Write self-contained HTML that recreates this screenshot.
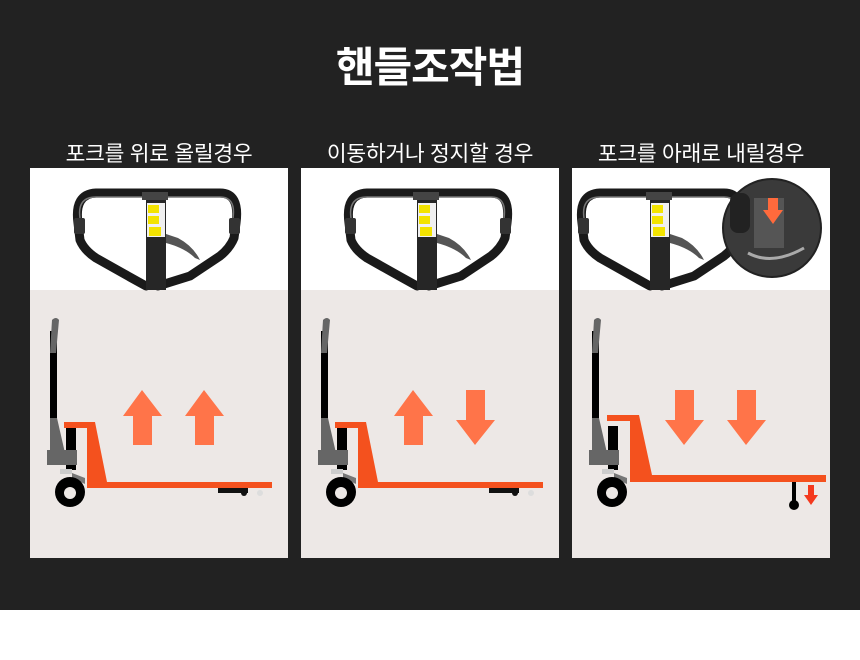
<!DOCTYPE html>
<html><head><meta charset="utf-8"><style>
body{margin:0;width:860px;height:660px;background:#fff;font-family:"Liberation Sans","Noto Sans CJK KR",sans-serif;position:relative;overflow:hidden}
.dark{position:absolute;left:0;top:0;width:860px;height:610px;background:#222}
h1{position:absolute;top:34px;left:0;width:860px;text-align:center;margin:0;color:#fff;font-size:42px;font-weight:bold;letter-spacing:-1px}
.lab{position:absolute;top:137px;width:258px;text-align:center;color:#fff;font-size:21.5px;letter-spacing:-0.3px}
svg.p{position:absolute;top:168px}
</style></head><body>
<div class="dark"></div>
<h1>핸들조작법</h1>
<div class="lab" style="left:30px">포크를 위로 올릴경우</div>
<div class="lab" style="left:301px">이동하거나 정지할 경우</div>
<div class="lab" style="left:572px">포크를 아래로 내릴경우</div>
<svg width="0" height="0" style="position:absolute"><defs>
<g id="hd">
<path d="M48,55 Q44,26 66,25 L190,25 Q210,25 206,55 L204,70 Q200,80 190,88 L160,108 L128,118 M48,55 L50,72 Q54,82 66,90 L98,108 L116,118" fill="none" stroke="#1a1a1a" stroke-width="9" stroke-linejoin="round" stroke-linecap="round"/>
<path d="M50,50 Q47,29 66,29 L190,29 Q206,29 203,50" fill="none" stroke="#777" stroke-width="1.5"/>
<rect x="44" y="50" width="11" height="16" rx="2" fill="#333"/><rect x="199" y="50" width="11" height="16" rx="2" fill="#333"/>
<rect x="112" y="24" width="26" height="8" fill="#444"/>
<rect x="116" y="32" width="20" height="90" fill="#262626"/>
<rect x="117" y="35" width="18" height="34" fill="#f0f0f0"/>
<rect x="118" y="37" width="11" height="8" fill="#f3e300"/><rect x="118" y="48" width="11" height="8" fill="#f3e300"/><rect x="119" y="59" width="12" height="9" fill="#f3e300"/>
<path d="M136,66 L148,70 Q163,78 170,92 L165,90 Q155,80 136,75Z" fill="#555"/>
</g>
<g id="tr">
<rect x="20" y="163" width="7" height="102" fill="#000"/>
<path d="M22,152 Q26,148 29,152 L26,185 L20,185Z" fill="#666"/>
<path d="M20,250 L27,250 L35,285 L20,285Z" fill="#666"/>
<rect x="36" y="258" width="10" height="44" fill="#000"/>
<rect x="17" y="282" width="30" height="15" fill="#666"/>
<rect x="30" y="301" width="12" height="5" fill="#ccc"/>
<path d="M42,305 L55,310 L55,316 L42,310Z" fill="#777"/>
<circle cx="40" cy="324" r="15" fill="#000"/><circle cx="40" cy="325" r="6" fill="#ede8e6"/>
</g>
<g id="up"><path d="M103,277 V248 H93 L112,222 L132,248 H122 V277Z" fill="#ff7449"/></g>
<g id="dn"><path d="M103,222 V252 H93 L112,277 L132,252 H122 V222Z" fill="#ff7449"/></g>
</defs></svg>

<svg class="p" style="left:30px" width="258" height="390">
<rect width="258" height="122" fill="#fff"/><rect y="122" width="258" height="268" fill="#ede8e6"/>
<use href="#hd"/>
<use href="#tr"/>
<rect x="188" y="320" width="30" height="5" fill="#111"/><circle cx="214" cy="325" r="3" fill="#111"/><circle cx="230" cy="325" r="3" fill="#ddd"/>
<path d="M34,254 H65 L77,314 H242 V320 H57 V260 H34Z" fill="#f4511e"/>
<use href="#up"/><use href="#up" x="62"/>
</svg>

<svg class="p" style="left:301px" width="258" height="390">
<rect width="258" height="122" fill="#fff"/><rect y="122" width="258" height="268" fill="#ede8e6"/>
<use href="#hd"/>
<use href="#tr"/>
<rect x="188" y="320" width="30" height="5" fill="#111"/><circle cx="214" cy="325" r="3" fill="#111"/><circle cx="230" cy="325" r="3" fill="#ddd"/>
<path d="M34,254 H65 L77,314 H242 V320 H57 V260 H34Z" fill="#f4511e"/>
<use href="#up"/><use href="#dn" x="62"/>
</svg>

<svg class="p" style="left:572px" width="258" height="390">
<rect width="258" height="122" fill="#fff"/><rect y="122" width="258" height="268" fill="#ede8e6"/>
<use href="#hd" x="-38"/>
<circle cx="200" cy="60" r="49" fill="#3a3a3a" stroke="#222" stroke-width="2"/>
<rect x="158" y="25" width="20" height="40" rx="8" fill="#222"/>
<rect x="182" y="30" width="30" height="50" fill="#555"/>
<path d="M176,85 Q200,98 232,80" stroke="#aaa" stroke-width="3" fill="none"/>
<path d="M196,30 V42 H191 L201,56 L211,42 H206 V30Z" fill="#ff6a3c"/>
<use href="#tr"/>
<rect x="220" y="313" width="4" height="20" fill="#000"/><circle cx="222" cy="337" r="5" fill="#000"/>
<path d="M236,317 V327 H232 L239,337 L246,327 H242 V317Z" fill="#f4391e"/>
<path d="M35,247 H67 L80,307 H254 V314 H58 V253 H35Z" fill="#f4511e"/>
<use href="#dn"/><use href="#dn" x="62"/>
</svg>
</body></html>
